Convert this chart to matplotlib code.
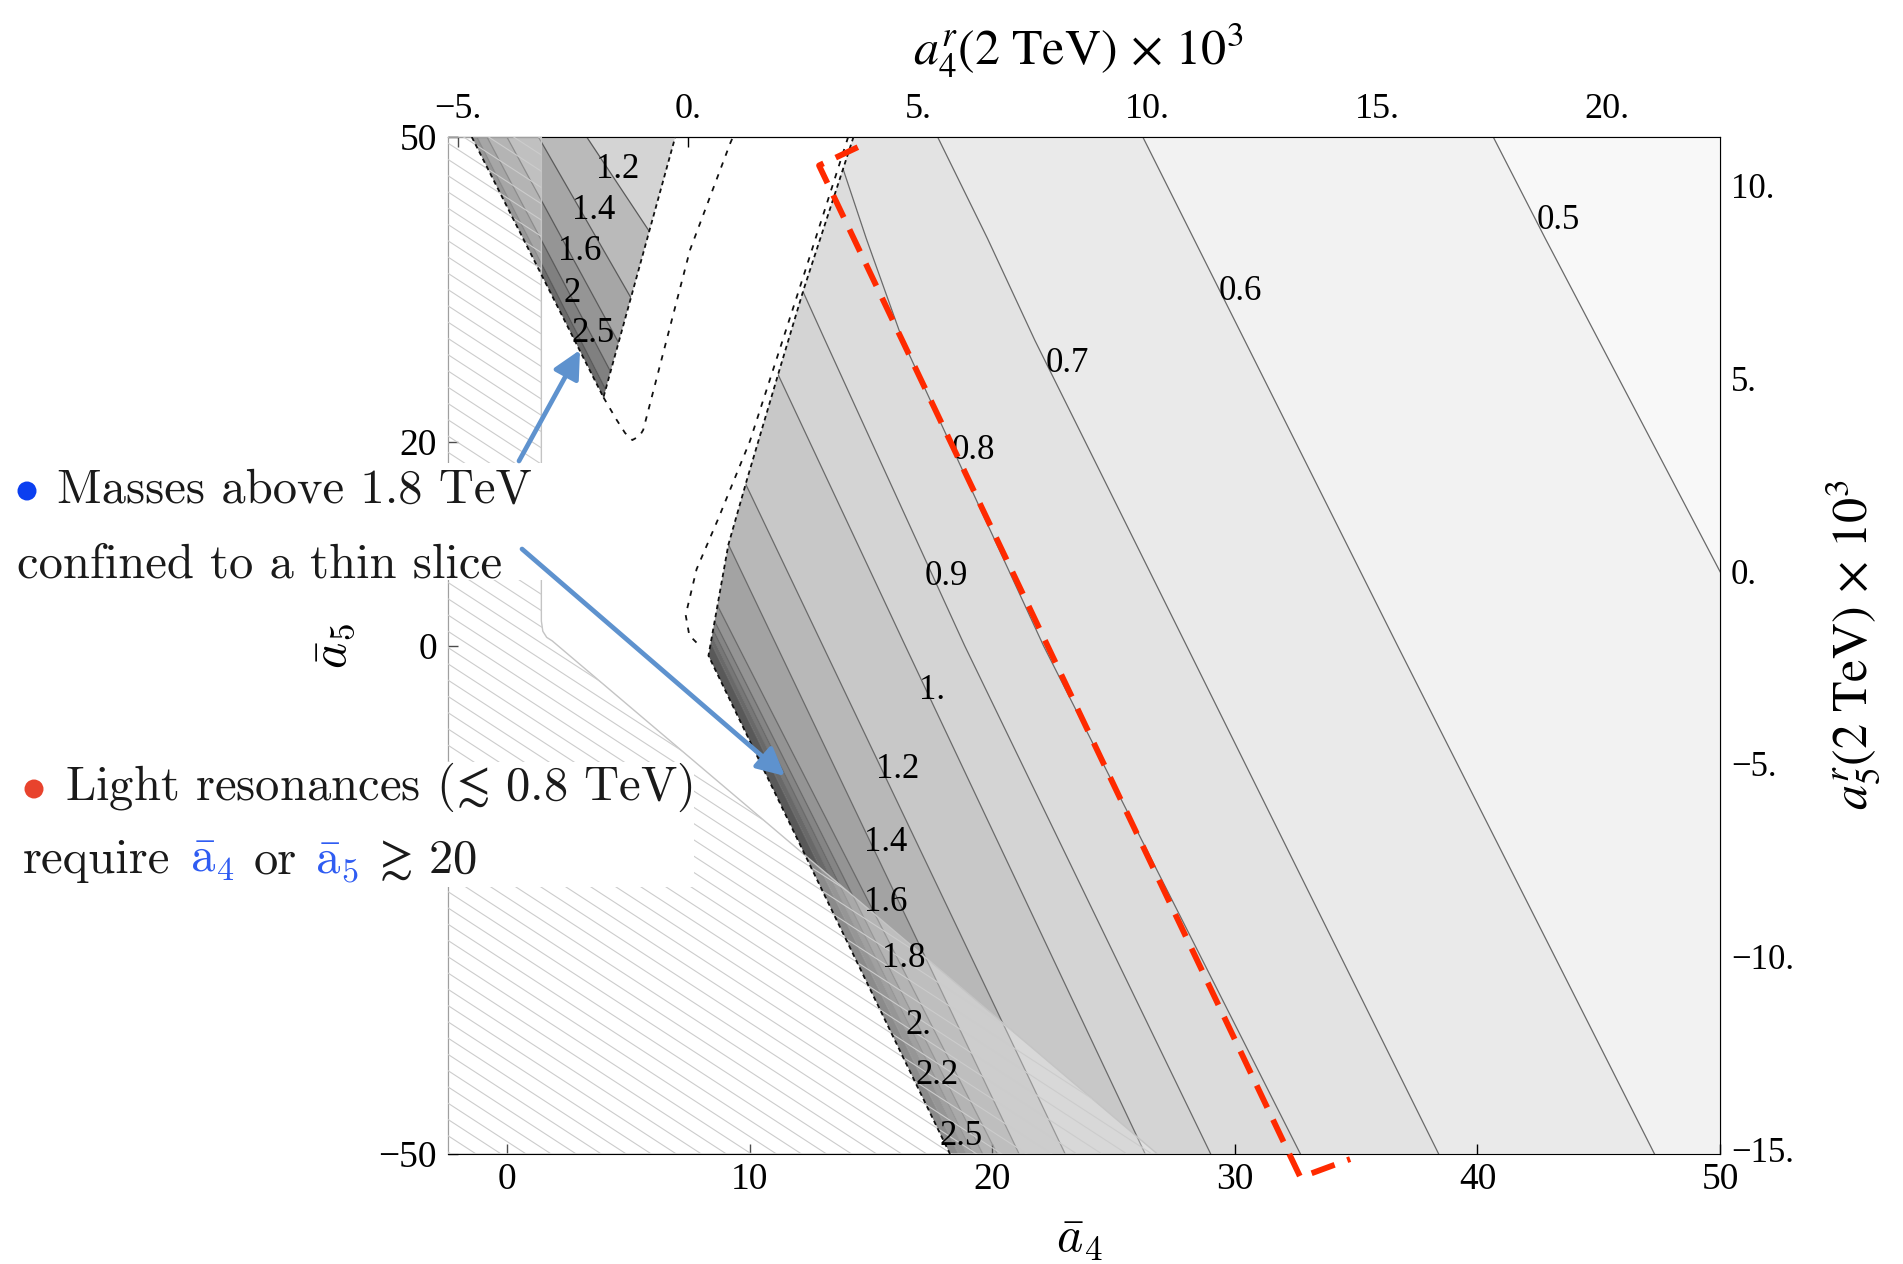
import numpy as np
import matplotlib
matplotlib.use("Agg")
import matplotlib.pyplot as plt
from matplotlib.patches import Polygon, Rectangle, Ellipse, FancyArrowPatch
from matplotlib.collections import LineCollection

plt.rcParams["font.family"] = ["Liberation Serif", "DejaVu Serif"]
plt.rcParams["mathtext.fontset"] = "cm"

# ---- resonance mass contours (TeV), main band ----
levels = [0.5, 0.6, 0.7, 0.8, 0.9, 1.0, 1.2, 1.4, 1.6, 1.8, 2.0, 2.2, 2.5]
level_text = ["0.5", "0.6", "0.7", "0.8", "0.9", "1.", "1.2", "1.4", "1.6",
              "1.8", "2.", "2.2", "2.5"]
a5_rows = [50, 40, 30, 0, -50]
# a4bar where each contour crosses the a5bar rows above
a4_cross = [
    [40.65, 42.8, 45.0, 51.6, 62.2],
    [26.2, 28.3, 30.4, 36.7, 47.3],
    [17.74, 19.8, 21.75, 28.0, 38.4],
    [13.4, 14.8, 16.3, 22.1, 32.7],
    [9.3, 11.2, 13.1, 18.85, 29.0],
    [6.7, 8.6, 10.5, 16.4, 26.3],
    [3.0, 5.0, 7.0, 13.0, 23.0],
    [1.1, 3.1, 5.1, 11.1, 21.1],
    [-1.2, 0.9, 3.1, 9.5, 20.2],
    [-1.5, 0.6, 2.7, 9.05, 19.6],
    [-1.6, 0.5, 2.6, 8.8, 19.2],
    [-1.7, 0.4, 2.5, 8.6, 18.9],
    [-1.8, 0.3, 2.4, 8.45, 18.6],
]
label_a4 = [43.35, 30.2, 23.1, 19.2, 18.1, 17.5, 16.1, 15.6, 15.6, 16.35, 16.95, 17.7, 18.7]
label_a5 = [41.8, 34.8, 27.7, 19.2, 6.8, -4.4, -12.2, -19.4, -25.3, -30.8, -37.4, -42.3, -48.3]

# edge of the region where the main resonance is found
edge_a4 = [14.27, 12.2, 11.18, 9.87, 9.11, 8.29, 18.25]
edge_a5 = [50, 34.9, 26.8, 16.25, 9.9, -1.0, -50]

# ---- second resonance: narrow wedge at the top left ----
wedge_text = ["1.2", "1.4", "1.6", "2", "2.5"]
wedge_rows = [50, 24]
wedge_cross = [[3.27, 10.5], [1.28, 7.55], [-0.02, 5.9], [-0.84, 4.9], [-1.26, 4.3]]
wedge_label_a4 = [4.55, 3.55, 3.0, 2.65, 3.55]
wedge_label_a5 = [46.8, 42.8, 38.7, 34.6, 30.7]
wedge_edge_a4 = [-1.47, 3.96, 6.92]
wedge_edge_a5 = [50, 24.4, 50]

# excluded (hatched) region
hatch_a4 = [-2.45, 1.4, 1.4, 1.46, 1.62, 1.85, 26.8, -2.45]
hatch_a5 = [50, 50, 2.4, 1.4, 0.8, 0.45, -50, -50]

# dotted curves
dotA_a4 = [14.05, 12.3, 10.0, 8.7, 7.8, 7.35, 7.5, 8.0]
dotA_a5 = [50, 37, 20.1, 12.5, 7.5, 3.0, 1.0, -0.2]
dotB_a4 = [3.96, 4.5, 4.85, 5.15, 5.45, 5.6, 7.53, 9.19, 9.3]
dotB_a5 = [24.4, 22.2, 20.9, 20.2, 20.6, 21.2, 38.9, 49.4, 50]

# highlighted strip around the 0.8 TeV contour
red_a4 = [14.45, 12.85, 32.7, 34.75]
red_a5 = [49.0, 47.2, -52.3, -50.5]

main_gray = [0.972, 0.948, 0.918, 0.89, 0.862, 0.83, 0.785, 0.72, 0.64,
             0.58, 0.52, 0.465, 0.41, 0.35]
wedge_gray = [0.83, 0.73, 0.65, 0.585, 0.5, 0.42]


def a4_to_r(x):
    return (x - 7.45) * 1e3 / (192 * np.pi ** 2)


def r_to_a4(r):
    return r * 192 * np.pi ** 2 / 1e3 + 7.45


def a5_to_r(y):
    return (y - 7.3) * 1e3 / (384 * np.pi ** 2)


def r_to_a5(r):
    return r * 384 * np.pi ** 2 / 1e3 + 7.3


W, H = 1903, 1264
fig = plt.figure(figsize=(W / 100, H / 100), dpi=100)


def fx(x):
    return x / W


def fy(y):
    return 1 - y / H


ax = fig.add_axes([fx(448), fy(1154), (1720 - 448) / W, (1154 - 137) / H])
ax.set_xlim(-2.45, 50)
ax.set_ylim(-50, 50)

# main region bands
main_poly = np.column_stack([edge_a4 + [50, 50], edge_a5 + [-50, 50]])
main_patch = Polygon(main_poly, closed=True, fc="none", ec="none")
ax.add_patch(main_patch)

rows = np.array(a5_rows, float)
cross = np.array(a4_cross, float)
bounds = [np.full(len(rows), 70.0)] + list(cross) + [np.full(len(rows), -10.0)]
for j in range(len(bounds) - 1):
    band = ax.fill_betweenx(rows, bounds[j + 1], bounds[j], color=str(main_gray[j]),
                            lw=0, zorder=1)
    band.set_clip_path(main_patch)
for xs in cross:
    ln, = ax.plot(xs, rows, color="#6a6a6a", lw=0.9, zorder=2)
    ln.set_clip_path(main_patch)

# wedge bands
wedge_patch = Polygon(np.column_stack([wedge_edge_a4, wedge_edge_a5]), closed=True,
                      fc="none", ec="none")
ax.add_patch(wedge_patch)
wrows = np.array(wedge_rows, float)
wb = [np.full(2, 20.0)] + [np.array(c, float) for c in wedge_cross] + [np.full(2, -10.0)]
for j in range(len(wb) - 1):
    band = ax.fill_betweenx(wrows, wb[j + 1], wb[j], color=str(wedge_gray[j]),
                            lw=0, zorder=1)
    band.set_clip_path(wedge_patch)
for xs in wedge_cross:
    ln, = ax.plot(xs, wrows, color="#5a5a5a", lw=0.9, zorder=2)
    ln.set_clip_path(wedge_patch)

# hatched exclusion region
hatch_patch = Polygon(np.column_stack([hatch_a4, hatch_a5]), closed=True,
                      fc=(1, 1, 1, 0.3), ec="#c4c4c4", lw=1.0, zorder=3)
ax.add_patch(hatch_patch)
k = 1.55
segs = [[(-3, b + 3 * k), (28, b - 28 * k)] for b in np.arange(-60, 100, 1.6)]
hatch = LineCollection(segs, colors="#cccccc", linewidths=0.8, zorder=3)
ax.add_collection(hatch)
hatch.set_clip_path(hatch_patch)

# region edges and dotted curves
ax.plot(edge_a4, edge_a5, color="#111111", lw=1.3, ls=(0, (2.5, 2.0)), zorder=4)
ax.plot(wedge_edge_a4, wedge_edge_a5, color="#111111", lw=1.3, ls=(0, (2.5, 2.0)), zorder=4)
ax.plot(dotA_a4, dotA_a5, color="#111111", lw=1.3, ls=(0, (3, 4)), zorder=4)
ax.plot(dotB_a4, dotB_a5, color="#111111", lw=1.3, ls=(0, (3, 4)), zorder=4)

ax.plot(red_a4, red_a5, color="#ff2a00", lw=4.2, dashes=(4.2, 2.3), zorder=6,
        clip_on=False, dash_capstyle="butt")

for s, x, y in zip(level_text, label_a4, label_a5):
    ax.text(x, y, s, fontsize=25, ha="center", va="center", zorder=5)
for s, x, y in zip(wedge_text, wedge_label_a4, wedge_label_a5):
    ax.text(x, y, s, fontsize=25, ha="center", va="center", zorder=5)

# axes, ticks
ax.set_xticks([0, 10, 20, 30, 40, 50])
ax.set_xticklabels(["0", "10", "20", "30", "40", "50"])
ax.set_yticks([-50, 0, 20, 50])
ax.set_yticklabels(["\u221250", "0", "20", "50"])
ax.tick_params(direction="in", length=7, width=1, labelsize=27, top=False, right=False)
ax.tick_params(axis="x", pad=6)
ax.tick_params(axis="y", pad=8)

top = ax.secondary_xaxis("top", functions=(a4_to_r, r_to_a4))
top.set_xticks([-5, 0, 5, 10, 15, 20])
top.set_xticklabels(["\u22125.", "0.", "5.", "10.", "15.", "20."])
top.tick_params(direction="in", length=7, width=1, labelsize=26, pad=8)

right = ax.secondary_yaxis("right", functions=(a5_to_r, r_to_a5))
right.set_yticks([-15, -10, -5, 0, 5, 10])
right.set_yticklabels(["\u221215.", "\u221210.", "\u22125.", "0.", "5.", "10."])
right.tick_params(direction="in", length=7, width=1, labelsize=25, pad=8)

fig.text(fx(1080), fy(1240), r"$\bar{a}_4$", fontsize=36, ha="center", va="center")
fig.text(fx(334), fy(646), r"$\bar{a}_5$", fontsize=36, ha="center", va="center",
         rotation=90)
fig.text(fx(1078), fy(65), r"$a_4^r(2\ \mathrm{TeV})\,\times\,10^3$", fontsize=36,
         ha="center", va="baseline", math_fontfamily="stix")
fig.text(fx(1853), fy(645), r"$a_5^r(2\ \mathrm{TeV})\,\times\,10^3$", fontsize=36,
         ha="center", va="center", rotation=90, math_fontfamily="stix")

# annotation panels
fig.add_artist(Rectangle((0, fy(580)), fx(545), (580 - 463) / H, transform=fig.transFigure,
                         fc="white", ec="none", zorder=10))
fig.add_artist(Rectangle((0, fy(887)), fx(694), (887 - 762) / H, transform=fig.transFigure,
                         fc="white", ec="none", zorder=10))

txt = dict(fontsize=35, fontfamily="cmr10", color="#1a1a1a", va="baseline", zorder=12)
fig.add_artist(Ellipse((fx(27), fy(491)), 19 / W, 19 / H, transform=fig.transFigure,
                       fc="#0b3ff0", ec="none", zorder=12))
fig.text(fx(57), fy(503), "Masses above 1.8 TeV", **txt)
fig.text(fx(17), fy(577), "confined to a thin slice", **txt)
fig.add_artist(Ellipse((fx(34), fy(789)), 19 / W, 19 / H, transform=fig.transFigure,
                       fc="#e8432d", ec="none", zorder=12))
fig.text(fx(65), fy(800), r"Light resonances ($\!\lesssim\,$0.8 TeV)", **txt)
fig.text(fx(23), fy(873), "require", **txt)
fig.text(fx(254), fy(873), "or", **txt)
fig.text(fx(371), fy(873), r"$\gtrsim\,$20", **txt)
blue = dict(txt, color="#2f5cf2")
fig.text(fx(190), fy(873), r"$\bar{\mathrm{a}}_4$", **blue)
fig.text(fx(315), fy(873), r"$\bar{\mathrm{a}}_5$", **blue)

for (x0, y0), (x1, y1) in [((519, 461), (580, 350)), ((522, 549), (785, 776))]:
    fig.add_artist(FancyArrowPatch((fx(x0), fy(y0)), (fx(x1), fy(y1)),
                                   transform=fig.transFigure, arrowstyle="-|>",
                                   mutation_scale=42, lw=3.4, color="#5e92ce",
                                   shrinkA=0, shrinkB=0, zorder=13))

fig.savefig("out.png", dpi=100)
